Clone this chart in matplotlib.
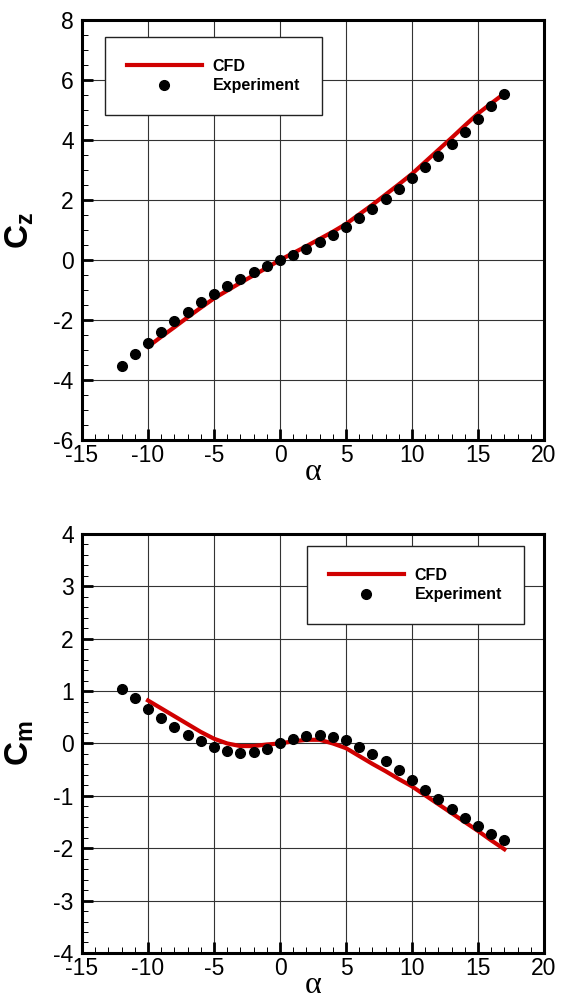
import matplotlib
matplotlib.use("Agg")
import matplotlib.pyplot as plt
from matplotlib.ticker import MultipleLocator

plt.rcParams["font.family"] = ["Liberation Sans", "DejaVu Sans"]
plt.rcParams["axes.unicode_minus"] = False
plt.rcParams["mathtext.fontset"] = "custom"
plt.rcParams["mathtext.bf"] = "Liberation Sans:bold"
plt.rcParams["mathtext.rm"] = "Liberation Sans"
plt.rcParams["mathtext.it"] = "Liberation Sans:italic"

# experiment, alpha -12..17
exp_alpha = [-12, -11, -10, -9, -8, -7, -6, -5, -4, -3, -2, -1, 0, 1, 2,
             3, 4, 5, 6, 7, 8, 9, 10, 11, 12, 13, 14, 15, 16, 17]
exp_cz = [-3.52, -3.13, -2.78, -2.39, -2.04, -1.73, -1.41, -1.13, -0.87, -0.63,
          -0.41, -0.20, 0.0, 0.18, 0.38, 0.60, 0.83, 1.11, 1.40, 1.70,
          2.04, 2.37, 2.72, 3.11, 3.48, 3.87, 4.28, 4.70, 5.12, 5.54]
exp_cm = [1.04, 0.87, 0.66, 0.48, 0.31, 0.17, 0.05, -0.07, -0.15, -0.18,
          -0.17, -0.10, 0.0, 0.09, 0.15, 0.17, 0.13, 0.06, -0.06, -0.20,
          -0.34, -0.50, -0.69, -0.88, -1.07, -1.25, -1.43, -1.58, -1.72, -1.84]

# CFD, alpha -10..17
cfd_alpha = [-10, -9, -8, -7, -6, -5, -4, -3, -2, -1, 0, 1, 2, 3, 4, 5, 6,
             7, 8, 9, 10, 11, 12, 13, 14, 15, 16, 17]
cfd_cz = [-2.89, -2.56, -2.24, -1.91, -1.59, -1.28, -1.02, -0.76, -0.51, -0.26,
          0.0, 0.23, 0.46, 0.70, 0.94, 1.20, 1.52, 1.84, 2.18, 2.52,
          2.87, 3.27, 3.67, 4.07, 4.48, 4.88, 5.22, 5.55]
cfd_cm = [0.82, 0.67, 0.52, 0.37, 0.22, 0.09, 0.0, -0.05, -0.05, -0.02,
          0.0, 0.04, 0.07, 0.07, 0.0, -0.09, -0.24, -0.39, -0.53, -0.68,
          -0.82, -0.99, -1.16, -1.33, -1.50, -1.67, -1.85, -2.02]

red = "#d00000"

fig = plt.figure(figsize=(5.61, 10.08), dpi=100)
ax1 = fig.add_axes([0.1462, 0.5635, 0.8235, 0.4167])
ax2 = fig.add_axes([0.1462, 0.0546, 0.8235, 0.4157])


def style(ax, ymin, ymax, ystep, yminor):
    ax.set_xlim(-15, 20)
    ax.set_ylim(ymin, ymax)
    ax.xaxis.set_major_locator(MultipleLocator(5))
    ax.xaxis.set_minor_locator(MultipleLocator(1))
    ax.yaxis.set_major_locator(MultipleLocator(ystep))
    ax.yaxis.set_minor_locator(MultipleLocator(yminor))
    ax.grid(True, which="major", color="#333333", lw=0.8)
    ax.set_axisbelow(True)
    ax.tick_params(which="major", direction="in", length=8, width=2,
                   labelsize=16.5, pad=3, top=False, right=False)
    ax.tick_params(axis="y", which="major", pad=6)
    ax.tick_params(which="minor", direction="in", length=4.5, width=0.7,
                   top=False, right=False)
    for s in ax.spines.values():
        s.set_linewidth(2.2)
    ax.set_xlabel("\u03b1", family="Liberation Serif", fontsize=23)
    ax.xaxis.set_label_coords(0.5, -0.042)


style(ax1, -6, 8, 2, 0.5)
style(ax2, -4, 4, 1, 0.2)

ax1.plot(cfd_alpha, cfd_cz, color=red, lw=3, label="CFD", zorder=3)
ax1.plot(exp_alpha, exp_cz, "o", color="black", ms=7, label="Experiment", zorder=4)
ax1.set_ylabel(r"$\mathbf{C_z}$", fontsize=24)
ax1.yaxis.set_label_coords(-0.1, 0.5)

ax2.plot(cfd_alpha, cfd_cm, color=red, lw=3, label="CFD", zorder=3)
ax2.plot(exp_alpha, exp_cm, "o", color="black", ms=7, label="Experiment", zorder=4)
ax2.set_ylabel(r"$\mathbf{C_m}$", fontsize=24)
ax2.yaxis.set_label_coords(-0.1, 0.5)

legkw = dict(fancybox=False, edgecolor="#222222", framealpha=1,
             prop={"weight": "bold", "size": 11.5}, handlelength=4.7,
             handletextpad=0.7, labelspacing=0.3, borderpad=1.35,
             borderaxespad=0, loc="upper left")
l1 = ax1.legend(bbox_to_anchor=(0.0498, 0.9595), **legkw)
l2 = ax2.legend(bbox_to_anchor=(0.487, 0.971), **legkw)
for l in (l1, l2):
    l.get_frame().set_linewidth(1.0)

fig.savefig("out.png", dpi=100)
